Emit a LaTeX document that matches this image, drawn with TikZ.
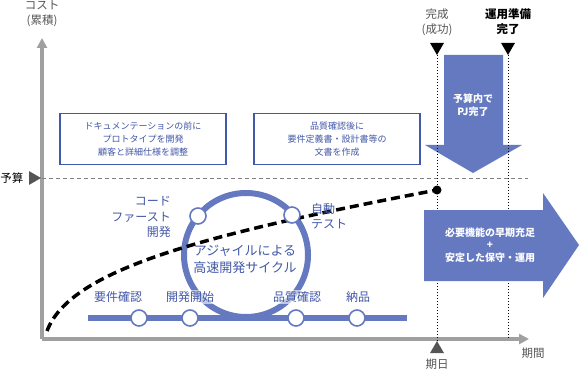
\documentclass[tikz,border=0pt]{standalone}
\usepackage{fontspec}
\setmainfont{Noto Sans CJK JP}
\usetikzlibrary{arrows.meta}
\usetikzlibrary{shapes.geometric}

\definecolor{agblue}{RGB}{100,121,191}
\definecolor{agtext}{RGB}{66,88,168}
\definecolor{axgray}{RGB}{160,160,160}
\definecolor{labgray}{RGB}{85,85,85}

\tikzset{
	axis/.style={draw=axgray, line width=3.5pt, -{Triangle[length=10pt,width=10pt]}},
	memo/.style={draw=agtext, line width=1.3pt, fill=white, minimum width=166pt,
		minimum height=51pt, text=agtext, align=center, font=\fontsize{9}{13}\selectfont},
	stone/.style={circle, draw=agblue, line width=1.6pt, fill=white, minimum size=16pt, inner sep=0pt},
	stonelabel/.style={text=agtext, font=\fontsize{12}{15.5}\selectfont, fill=white,
		fill opacity=0.6, text opacity=1, inner sep=1pt},
	axislabel/.style={text=labgray, font=\fontsize{11.5}{15}\selectfont, align=center},
	arrowtext/.style={text=white, font=\bfseries\fontsize{10}{12.5}\selectfont, align=center},
	tri/.style={regular polygon, regular polygon sides=3, fill, inner sep=0pt, minimum size=16pt},
	limitline/.style={dotted, line width=1pt},
	budgetline/.style={draw=gray, dash pattern=on 4pt off 3pt, line width=1pt},
	costcurve/.style={dash pattern=on 9pt off 5pt, line width=3.5pt},
}

\begin{document}
\begin{tikzpicture}[x=1pt,y=-1pt]
	\useasboundingbox (0,0) rectangle (580,374);
	%% axes
	\coordinate (origin) at (42,339);
	\coordinate (ytip) at (42,38);
	\coordinate (xtip) at (529,339);
	\draw[axis] (origin) -- (ytip);
	\draw[axis] (origin) -- (xtip);
	\node[axislabel] (cost) at (42,14) {コスト\\(累積)};
	\node[axislabel] (term) at (533,353) {期間};

	%% budget
	\node[tri, labgray, rotate=-90] (budgetmark) at (33,178) {};
	\node[axislabel, text=black] (budget) at (12,178) {予算};
	\coordinate (budgetend) at (528,178);

	%% budget arrow
	\fill[agblue] (444,55) -- (503,55) -- (503,145) -- (522,145) -- (473,173)
		-- (425,145) -- (444,145) -- cycle;
	\node[arrowtext] (inbudget) at (473,105) {予算内で\\PJ完了};
	\draw[budgetline] (origin |- budgetmark) -- (budgetend);

	%% deadlines
	\node[tri, rotate=180] (done) at (437,47) {};
	\node[tri, rotate=180] (ready) at (508,47) {};
	\node[tri, labgray] (due) at (437,349) {};
	\coordinate (readyend) at (508,339);
	\node[axislabel] (donetext) at (437,22) {完成\\(成功)};
	\node[axislabel, text=black, font=\bfseries\fontsize{11.5}{15}\selectfont]
		(readytext) at (508,22) {運用準備\\完了};
	\node[axislabel] (duetext) at (437,364) {期日};
	\draw[limitline] (done.corner 1) -- (due.corner 1);
	\draw[limitline] (ready.corner 1) -- (readyend);

	%% merit arrow
	\fill[agblue] (424,210) -- (543,210) -- (543,193) -- (579,245) -- (543,298)
		-- (543,281) -- (424,281) -- cycle;
	\node[arrowtext] (merit) at (490,245) {必要機能の早期充足\\+\\安定した保守・運用};

	%% notes
	\node[memo] (proto) at (143,139) {ドキュメンテーションの前に\\プロトタイプを開発\\顧客と詳細仕様を調整};
	\node[memo] (docs) at (337,139) {品質確認後に\\要件定義書・設計書等の\\文書を作成};

	%% agile cycle
	\coordinate (cycle) at (246,255);
	\draw[agblue, line width=6pt] (cycle) circle (62pt);
	\coordinate (flowstart) at (88,318);
	\coordinate (flowend) at (407,318);
	\draw[agblue, line width=6pt] (flowstart) -- (flowend);

	%% cost curve
	\coordinate (start) at (47,331);
	\node[circle, fill, inner sep=0pt, minimum size=9pt] (hit) at (437,190) {};
	\draw[costcurve] (start) .. controls (70,270) and (200,235) .. (hit.center);

	\node[text=agtext, font=\fontsize{13}{17}\selectfont, align=center]
		(agile) at (245,259) {アジャイルによる\\高速開発サイクル};

	\node[stonelabel] (reqtext) at (118,297) {要件確認};
	\node[stonelabel] (starttext) at (190,297) {開発開始};
	\node[stonelabel] (qatext) at (297,297) {品質確認};
	\node[stonelabel] (shiptext) at (358,297) {納品};
	\node[stonelabel, fill=none, align=right, anchor=east] (codetext) at (172,217) {コード\\ファースト\\開発};
	\node[stonelabel, fill=none, align=left, anchor=west] (testtext) at (310,216) {自動\\テスト};

	\node[stone] (req) at (139,318) {};
	\node[stone] (devstart) at (190,318) {};
	\node[stone] (qa) at (296,318) {};
	\node[stone] (ship) at (357,318) {};
	\node[stone] (code) at (198,216) {};
	\node[stone] (test) at (292,215) {};
\end{tikzpicture}
\end{document}
